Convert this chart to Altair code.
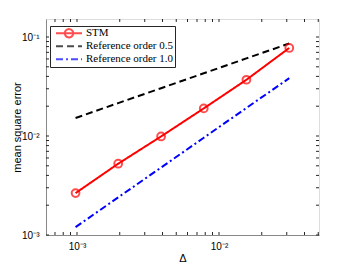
import altair as alt
import pandas as pd

# ---- data ----
series_names = ["STM", "Reference order 0.5", "Reference order 1.0"]
delta = [0.000977, 0.00195, 0.00391, 0.00781, 0.0156, 0.03125]
stm = [0.00265, 0.00525, 0.0099, 0.0190, 0.0370, 0.0775]
ref05 = [0.0152, 0.0215, 0.0304, 0.0430, 0.0608, 0.0860]
ref10 = [0.0012, 0.0024, 0.0048, 0.0096, 0.0192, 0.0384]

x_major = [0.001, 0.01]
y_major = [0.001, 0.01, 0.1]
x_minor = [0.0007, 0.0008, 0.0009, 0.001, 0.002, 0.003, 0.004, 0.005, 0.006,
           0.007, 0.008, 0.009, 0.01, 0.02, 0.03, 0.04, 0.05]
y_minor = [0.001, 0.002, 0.003, 0.004, 0.005, 0.006, 0.007, 0.008, 0.009,
           0.01, 0.02, 0.03, 0.04, 0.05, 0.06, 0.07, 0.08, 0.09, 0.1]

rows = []
for name, vals in zip(series_names, [stm, ref05, ref10]):
    for d, v in zip(delta, vals):
        rows.append({"series": name, "delta": d, "err": v})
df = pd.DataFrame(rows)
df_stm = df[df.series == "STM"]
xt = pd.DataFrame({"delta": x_minor})
yt = pd.DataFrame({"err": y_minor})

W, H = 273, 216
AX = "#262626"
xscale = alt.Scale(type="log", domain=[0.000605, 0.0506], nice=False)
yscale = alt.Scale(type="log", domain=[0.001, 0.152], nice=False)
xaxis = alt.Axis(values=x_major, ticks=False, grid=False,
                 labelExpr="datum.value < 0.005 ? '10⁻³' : '10⁻²'",
                 labelPadding=6, titleY=23, titleBaseline="middle",
                 titleFontWeight="normal")
yaxis = alt.Axis(values=y_major, ticks=False, grid=False,
                 labelExpr="datum.value < 0.005 ? '10⁻³' : datum.value < 0.05 ? '10⁻²' : '10⁻¹'",
                 labelPadding=7, titleX=-29, titleBaseline="middle",
                 titleFontWeight="normal")


def X():
    return alt.X("delta:Q", scale=xscale, title="Δ", axis=xaxis)


def Y():
    return alt.Y("err:Q", scale=yscale, title="mean square error", axis=yaxis)


color_scale = alt.Scale(domain=series_names, range=["#ff0000", "#000000", "#0000ff"])
dash_scale = alt.Scale(domain=series_names, range=[[1, 0], [7, 4], [7, 3, 2, 3]])
stm_path = ("M-1,0L1,0M-0.32,0A0.32,0.32,0,1,1,0.32,0"
            "A0.32,0.32,0,1,1,-0.32,0")
shape_scale = alt.Scale(domain=series_names, range=[stm_path, "stroke", "stroke"])

legend = alt.Legend(
    orient="none", legendX=4, legendY=7,
    symbolType="stroke", symbolSize=676, symbolStrokeWidth=2,
    symbolFillColor="transparent", clipHeight=12.5, rowPadding=0,
    padding=1, symbolOffset=4, labelOffset=3,
    labelFont="Liberation Serif", labelFontSize=11, labelColor="#000000",
    fillColor="#ffffff", strokeColor=AX,
)

lines = alt.Chart(df).mark_line(strokeWidth=2).encode(
    x=X(), y=Y(),
    color=alt.Color("series:N", scale=color_scale, title=None, legend=legend),
    strokeDash=alt.StrokeDash("series:N", scale=dash_scale, title=None, legend=legend),
    detail="series:N",
)

# legend-only layer (no rows survive the filter) that supplies symbol shapes
legend_layer = alt.Chart(df).transform_filter("false").mark_point(
    filled=False, strokeWidth=2).encode(
    x=X(), y=Y(),
    color=alt.Color("series:N", scale=color_scale, title=None, legend=legend),
    strokeDash=alt.StrokeDash("series:N", scale=dash_scale, title=None, legend=legend),
    shape=alt.Shape("series:N", scale=shape_scale, title=None, legend=legend),
)

points = alt.Chart(df_stm).mark_point(shape="circle", size=60, strokeWidth=2,
                                      color="#ff0000", filled=False).encode(
    x=X(), y=Y(),
)

tick_len = 3
xb = alt.Chart(xt).mark_rule(color=AX, strokeWidth=1).encode(
    x=X(), y=alt.value(H), y2=alt.value(H - tick_len))
xtp = alt.Chart(xt).mark_rule(color=AX, strokeWidth=1).encode(
    x=X(), y=alt.value(0), y2=alt.value(tick_len))
yl = alt.Chart(yt).mark_rule(color=AX, strokeWidth=1).encode(
    y=Y(), x=alt.value(0), x2=alt.value(tick_len))
yr = alt.Chart(yt).mark_rule(color=AX, strokeWidth=1).encode(
    y=Y(), x=alt.value(W), x2=alt.value(W - tick_len))

chart = alt.layer(lines, legend_layer, points, xb, xtp, yl, yr).properties(
    width=W, height=H,
    autosize=alt.AutoSizeParams(type="none"),
    padding={"left": 38, "top": 11, "right": 20, "bottom": 30},
).configure_view(stroke=AX, strokeWidth=1).configure_axis(
    domainColor=AX, domainWidth=1, labelColor=AX, labelFont="Liberation Sans",
    labelFontSize=9, titleFont="Liberation Sans", titleFontSize=10,
    titleFontWeight="normal", titleColor=AX,
).configure(background="#ffffff")

chart.save("out.html", embed_options={"renderer": "svg", "actions": False})
